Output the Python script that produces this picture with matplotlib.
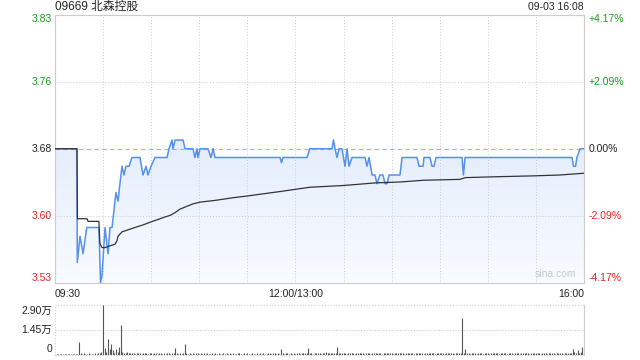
import matplotlib
matplotlib.use("Agg")
import matplotlib.pyplot as plt
import numpy as np
from matplotlib.colors import LinearSegmentedColormap

plt.rcParams['font.family'] = ['Liberation Sans', 'Noto Sans CJK SC', 'DejaVu Sans']

# ---------------- data ----------------
title = "09669 北森控股"
stamp = "09-03 16:08"
prev_close = 3.68
pct_labels = ["+4.17%", "+2.09%", "0.00%", "-2.09%", "-4.17%"]
price_labels = ["3.83", "3.76", "3.68", "3.60", "3.53"]
pct_values = [4.17, 2.085, 0.0, -2.085, -4.17]
time_labels = ["09:30", "12:00/13:00", "16:00"]
time_label_pos = [0, 150, 330]
vol_labels = ["2.90万", "1.45万", "0"]
vol_levels = [2.90, 1.45, 0.0]

# price line breakpoints (minute index, price)
price_min = [0, 13.7, 13.9, 15.6, 17.5, 19.8, 27.4, 28.4, 29.3, 31.2, 33.1, 34.3, 35.6,
             38, 39.3, 40.5, 41.8, 43, 44.3, 46.2, 48, 53, 54.9, 56.8, 58, 59.9, 62.4,
             69.9, 71.1, 73, 73.6, 74.9, 79.9, 81.1, 86.1, 87.3, 88.6, 89.2, 90.5, 95.4,
             97.3, 98.6, 99.8, 140.4, 141.3, 142.2, 157.2, 159, 172.8, 173.7, 174.7,
             175.9, 177.2, 179, 180.9, 182.2, 183.4, 185.3, 193.4, 194.6, 195.9, 197.8,
             199.6, 200.9, 202.7, 204.6, 205.9, 207.1, 208.4, 215.2, 216.5, 225.8, 227.1,
             229.6, 230.2, 233.9, 235.2, 236.4, 237.7, 253.9, 254.8, 255.8, 322.5, 323.4,
             324.7, 325.6, 327.5, 330]
price_val = [3.68, 3.68, 3.55, 3.58, 3.56, 3.59, 3.59, 3.527, 3.535, 3.59, 3.56, 3.59, 3.59,
             3.63, 3.62, 3.64, 3.66, 3.65, 3.66, 3.66, 3.67, 3.67, 3.65, 3.66, 3.65, 3.66, 3.67,
             3.67, 3.68, 3.69, 3.68, 3.69, 3.69, 3.68, 3.68, 3.67, 3.68, 3.67, 3.68, 3.68,
             3.67, 3.68, 3.67, 3.67, 3.664, 3.67, 3.67, 3.68, 3.68, 3.69, 3.68,
             3.67, 3.68, 3.68, 3.66, 3.68, 3.66, 3.67, 3.67, 3.66, 3.67, 3.65,
             3.65, 3.64, 3.65, 3.65, 3.64, 3.64, 3.65, 3.65, 3.67, 3.67, 3.66,
             3.66, 3.67, 3.67, 3.66, 3.66, 3.67, 3.67, 3.65, 3.67, 3.67, 3.66,
             3.66, 3.67, 3.68, 3.68]

# average price line breakpoints
avg_min = [0, 13.7, 14, 20, 20.6, 27.4, 28, 29.3, 31.2, 34.3, 37.5, 38.7, 39.3, 41.8, 45, 49.9,
           55, 59.3, 64, 68.6, 72, 74.9, 78, 82, 86.1, 90.5, 100, 111, 120, 127.9, 140, 159,
           180, 200, 215.2, 230, 252.6, 256, 275, 298.2, 315, 330]
avg_val = [3.68, 3.68, 3.60, 3.60, 3.597, 3.597, 3.572, 3.567, 3.567, 3.569, 3.571, 3.575,
           3.580, 3.585, 3.587, 3.590, 3.593, 3.596, 3.599, 3.602, 3.604, 3.607, 3.611,
           3.614, 3.617, 3.619, 3.621, 3.624, 3.626, 3.628, 3.631, 3.636, 3.638, 3.641,
           3.642, 3.644, 3.645, 3.647, 3.648, 3.649, 3.650, 3.652]

# volume per minute, in 百股 (hundreds of shares)
volume = [
    0, 2, 1, 3, 2, 1, 2, 3, 1, 2, 1, 2, 3, 2, 4, 74, 6, 3, 8, 5, 4, 6, 3, 5, 4, 6, 5, 8, 10, 12,
    290, 39, 12, 90, 30, 62, 25, 10, 35, 12, 45, 172, 14, 8, 10, 15, 9, 7, 6, 8, 5, 7, 6, 9, 5, 8, 6, 7, 5, 6,
    7, 5, 6, 8, 5, 6, 7, 4, 6, 5, 6, 8, 5, 7, 6, 41, 6, 5, 7, 4, 6, 60, 8, 5, 6, 4, 7, 5, 6, 8,
    5, 6, 4, 7, 5, 6, 5, 4, 6, 5, 7, 5, 6, 4, 5, 6, 5, 7, 4, 6, 5, 6, 4, 5, 7, 6, 5, 4, 6, 5,
    6, 4, 5, 7, 5, 4, 6, 5, 7, 5, 6, 4, 5, 6, 8, 5, 6, 7, 5, 6, 4, 35, 6, 5, 7, 6, 5, 8, 4, 6,
    5, 7, 6, 5, 8, 6, 7, 10, 39, 8, 6, 5, 7, 9, 6, 8, 5, 7, 6, 12, 8, 6, 9, 7, 10, 6, 45, 8, 7, 6,
    8, 6, 5, 9, 7, 6, 8, 5, 7, 10, 6, 8, 7, 5, 9, 6, 7, 5, 8, 6, 9, 7, 6, 8, 5, 7, 6, 9, 8, 6,
    7, 5, 8, 6, 7, 9, 6, 8, 5, 7, 10, 6, 8, 7, 5, 6, 8, 7, 9, 6, 5, 7, 8, 6, 7, 9, 6, 5, 8, 7,
    6, 8, 7, 5, 9, 6, 7, 8, 6, 5, 7, 9, 6, 8, 215, 7, 30, 6, 8, 5, 7, 6, 9, 5, 8, 6, 7, 5, 8, 6,
    7, 5, 8, 6, 7, 9, 6, 5, 8, 7, 6, 8, 5, 7, 9, 6, 5, 8, 6, 7, 5, 8, 6, 9, 7, 6, 5, 7, 8, 6,
    7, 6, 8, 5, 9, 6, 7, 5, 8, 6, 7, 9, 5, 8, 6, 7, 6, 5, 9, 8, 7, 10, 8, 30, 12, 9, 25, 11, 14, 45,
    10,
]

# ---------------- styling ----------------
GREEN = '#1a9f1a'
RED = '#ee2222'
BLUE = '#5590ee'
GRID = '#cccccc'
TXT = '#222222'
pmin = prev_close * (1 - 4.17 / 100)
pmax = prev_close * (1 + 4.17 / 100)

fig = plt.figure(figsize=(6.4, 3.6), dpi=100)
W, H = 640, 360
def fx(x): return x / W
def fy(y): return 1 - y / H

L, R = 55, 584
ax = fig.add_axes([fx(L), fy(283), fx(R - L), fy(14.5) - fy(283)])
axv = fig.add_axes([fx(L), fy(354.5), fx(R - L), fy(305) - fy(354.5)])

ax.set_xlim(0, 330)
ax.set_ylim(pmin, pmax)
for s in ax.spines.values():
    s.set_color(GRID)
    s.set_linewidth(0.8)
ax.set_xticks([]); ax.set_yticks([])

# grid
for m in range(30, 330, 30):
    ax.axvline(m, color=GRID, lw=0.7, ls=(0, (1, 2)), zorder=1)
for p in pct_values:
    lvl = prev_close * (1 + p / 100)
    if p == 0:
        ax.axhline(lvl, color='#f0a070', lw=0.8, ls=(0, (4, 3)), zorder=1)
    elif abs(p) < 3:
        ax.axhline(lvl, color=GRID, lw=0.7, ls=(0, (1, 2)), zorder=1)

# gradient fill under price line
xs = np.array(price_min, dtype=float)
ys = np.array(price_val, dtype=float)
poly_x = np.concatenate([[xs[0]], xs, [xs[-1]]])
poly_y = np.concatenate([[pmin], ys, [pmin]])
poly = ax.fill(poly_x, poly_y, facecolor='none', edgecolor='none')[0]
cmap = LinearSegmentedColormap.from_list('g', ['#f8fbff', '#d3e1fa'])
grad = np.linspace(0, 1, 256).reshape(-1, 1)
im = ax.imshow(grad, cmap=cmap, aspect='auto', origin='lower',
               extent=[0, 330, pmin, pmax], zorder=0.5)
im.set_clip_path(poly)

ax.plot(price_min, price_val, color=BLUE, lw=1.1, zorder=3)
ax.plot(avg_min, avg_val, color='#333333', lw=0.9, zorder=3)

ax.text(0.985, 0.015, 'sina.com', transform=ax.transAxes, ha='right', va='bottom',
        color='#c8c8c8', fontsize=7.5)

# price labels
colors = [GREEN, GREEN, TXT, RED, RED]
for i, (pl, pc, p) in enumerate(zip(price_labels, pct_labels, pct_values)):
    lvl = prev_close * (1 + p / 100)
    yy = fy(283) + (lvl - pmin) / (pmax - pmin) * (fy(14.5) - fy(283))
    if i == 0:
        yy -= 5 / H
    elif i == 4:
        yy += 5 / H
    fig.text(fx(52), yy, pl, ha='right', va='center', color=colors[i], fontsize=7.5)
    fig.text(fx(589), yy, pc, ha='left', va='center', color=colors[i], fontsize=7.5)

fig.text(fx(55), fy(7), title, ha='left', va='center', color=TXT, fontsize=8.5)
fig.text(fx(584), fy(7), stamp, ha='right', va='center', color=TXT, fontsize=7.5)

# time labels
for lab, m in zip(time_labels, time_label_pos):
    xpix = L + m / 330 * (R - L)
    ha = 'center'
    if m == 0:
        ha = 'left'
    elif m == 330:
        ha = 'right'
    fig.text(fx(xpix), fy(294), lab, ha=ha, va='center', color=TXT, fontsize=7.5)

# volume
axv.set_xlim(0, 330)
axv.set_ylim(0, 2.90)
axv.set_xticks([]); axv.set_yticks([])
for k in ['top', 'left', 'bottom']:
    axv.spines[k].set_visible(False)
axv.spines['right'].set_color(GRID)
axv.spines['right'].set_linewidth(0.8)
axv.axhline(2.90, color=GRID, lw=0.8, ls=(0, (1, 1.5)), clip_on=False)
axv.axhline(1.45, color=GRID, lw=0.8, ls=(0, (1, 1.5)))
axv.axhline(0.0, color=GRID, lw=0.8, ls=(0, (1, 1.5)), clip_on=False)
axv.axvline(0, color=GRID, lw=0.8, ls=(0, (1, 1.5)), clip_on=False)
vm = np.arange(len(volume))
vv = np.array(volume) / 100.0
axv.vlines(vm, 0, vv, color='#555555', lw=0.8)

for lab, lv in zip(vol_labels, vol_levels):
    yy = fy(354.5) + lv / 2.90 * (fy(305) - fy(354.5))
    if lv == 2.90:
        yy -= 6 / H
    elif lv == 0:
        yy += 6 / H
    fig.text(fx(52), yy, lab, ha='right', va='center', color=TXT, fontsize=7.5)

fig.savefig('out.png', dpi=100)
